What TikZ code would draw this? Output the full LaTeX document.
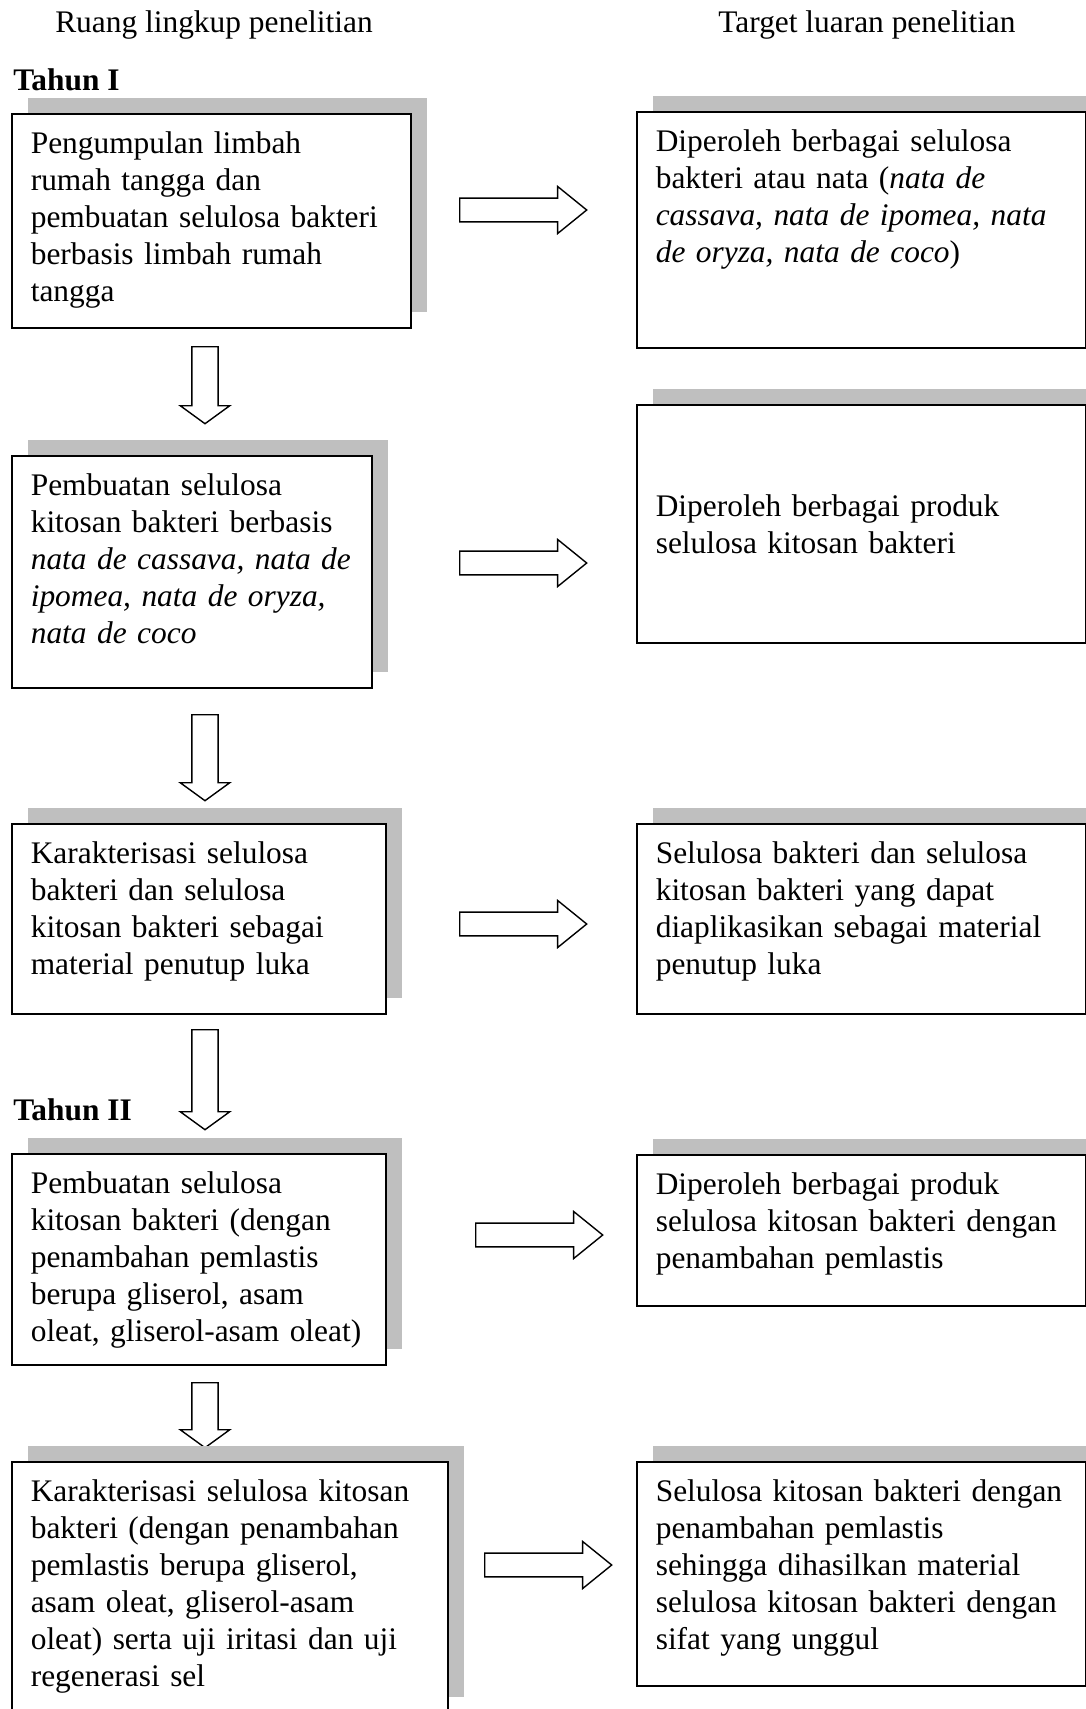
\documentclass[tikz,border=0pt]{standalone}
\usepackage{fontspec}
\setmainfont{Liberation Serif}
\usetikzlibrary{shapes.arrows,shadows}

\tikzset{
	stepbox/.style 2 args={draw=black,line width=0.8pt,fill=white,anchor=north west,
		inner xsep=9.5pt,inner ysep=0pt,align=left,text height=20pt,
		text width=#1,text depth=#2,
		drop shadow={shadow xshift=8pt,shadow yshift=8pt,fill=black!25,opacity=1}},
	harrow/.style={single arrow,draw=black,line width=0.7pt,fill=white,inner sep=5.6pt,
		anchor=tail,minimum height=63.5pt,single arrow head extend=5.8pt,
		single arrow tip angle=78},
	darrow/.style={single arrow,draw=black,line width=0.7pt,fill=white,inner sep=6.2pt,
		anchor=tail,rotate=-90,minimum height=#1,single arrow head extend=5.8pt,
		single arrow tip angle=108},
	year/.style={anchor=base west,inner sep=0pt,font=\fontsize{15.7}{18.5}\selectfont\bfseries}
}

\begin{document}
\begin{tikzpicture}[x=0.5pt,y=-0.5pt,font=\fontsize{15.7}{18.5}\selectfont]
	\useasboundingbox (0,0) rectangle (1086,1709);

	\node[anchor=base] (hl) at (214,32) {Ruang lingkup penelitian};
	\node[anchor=base] (hr) at (867,32) {Target luaran penelitian};

	% Tahun I
	\node[year] (t1) at (13,90) {Tahun I};
	\node[stepbox={180.5pt}{87pt}] (l1) at (11,113)
		{Pengumpulan limbah\\rumah tangga dan\\pembuatan selulosa bakteri\\berbasis limbah rumah\\tangga};
	\node[stepbox={205.5pt}{98pt}] (r1) at (636,111)
		{Diperoleh berbagai selulosa\\bakteri atau nata (\textit{nata de}\\\textit{cassava, nata de ipomea, nata}\\\textit{de oryza, nata de coco})};
	\node[harrow] (h1) at (459,210) {};
	\node[darrow=38.5pt] (d1) at (205,346) {};

	\node[stepbox={161pt}{96pt}] (l2) at (11,455)
		{Pembuatan selulosa\\kitosan bakteri berbasis\\\textit{nata de cassava, nata de}\\\textit{ipomea, nata de oryza,}\\\textit{nata de coco}};
	\node[stepbox={205.5pt}{63pt},text height=56pt] (r2) at (636,404)
		{Diperoleh berbagai produk\\selulosa kitosan bakteri};
	\node[harrow] (h2) at (459,563) {};
	\node[darrow=43pt] (d2) at (205,714) {};

	\node[stepbox={168pt}{75pt}] (l3) at (11,823)
		{Karakterisasi selulosa\\bakteri dan selulosa\\kitosan bakteri sebagai\\material penutup luka};
	\node[stepbox={205.5pt}{75pt}] (r3) at (636,823)
		{Selulosa bakteri dan selulosa\\kitosan bakteri yang dapat\\diaplikasikan sebagai material\\penutup luka};
	\node[harrow] (h3) at (459,924) {};
	\node[darrow=50pt] (d3) at (205,1029) {};

	% Tahun II
	\node[year] (t2) at (13,1120) {Tahun II};
	\node[stepbox={168pt}{85.5pt}] (l4) at (11,1153)
		{Pembuatan selulosa\\kitosan bakteri (dengan\\penambahan pemlastis\\berupa gliserol, asam\\oleat, gliserol-asam oleat)};
	\node[stepbox={205.5pt}{55.5pt}] (r4) at (636,1154)
		{Diperoleh berbagai produk\\selulosa kitosan bakteri dengan\\penambahan pemlastis};
	\node[harrow] (h4) at (475,1235) {};
	\node[darrow=32.5pt] (d4) at (205,1382) {};

	\node[stepbox={199pt}{105.5pt}] (l5) at (11,1461)
		{Karakterisasi selulosa kitosan\\bakteri (dengan penambahan\\pemlastis berupa gliserol,\\asam oleat, gliserol-asam\\oleat) serta uji iritasi dan uji\\regenerasi sel};
	\node[stepbox={205.5pt}{92pt}] (r5) at (636,1461)
		{Selulosa kitosan bakteri dengan\\penambahan pemlastis\\sehingga dihasilkan material\\selulosa kitosan bakteri dengan\\sifat yang unggul};
	\node[harrow] (h5) at (484,1565) {};
\end{tikzpicture}
\end{document}
